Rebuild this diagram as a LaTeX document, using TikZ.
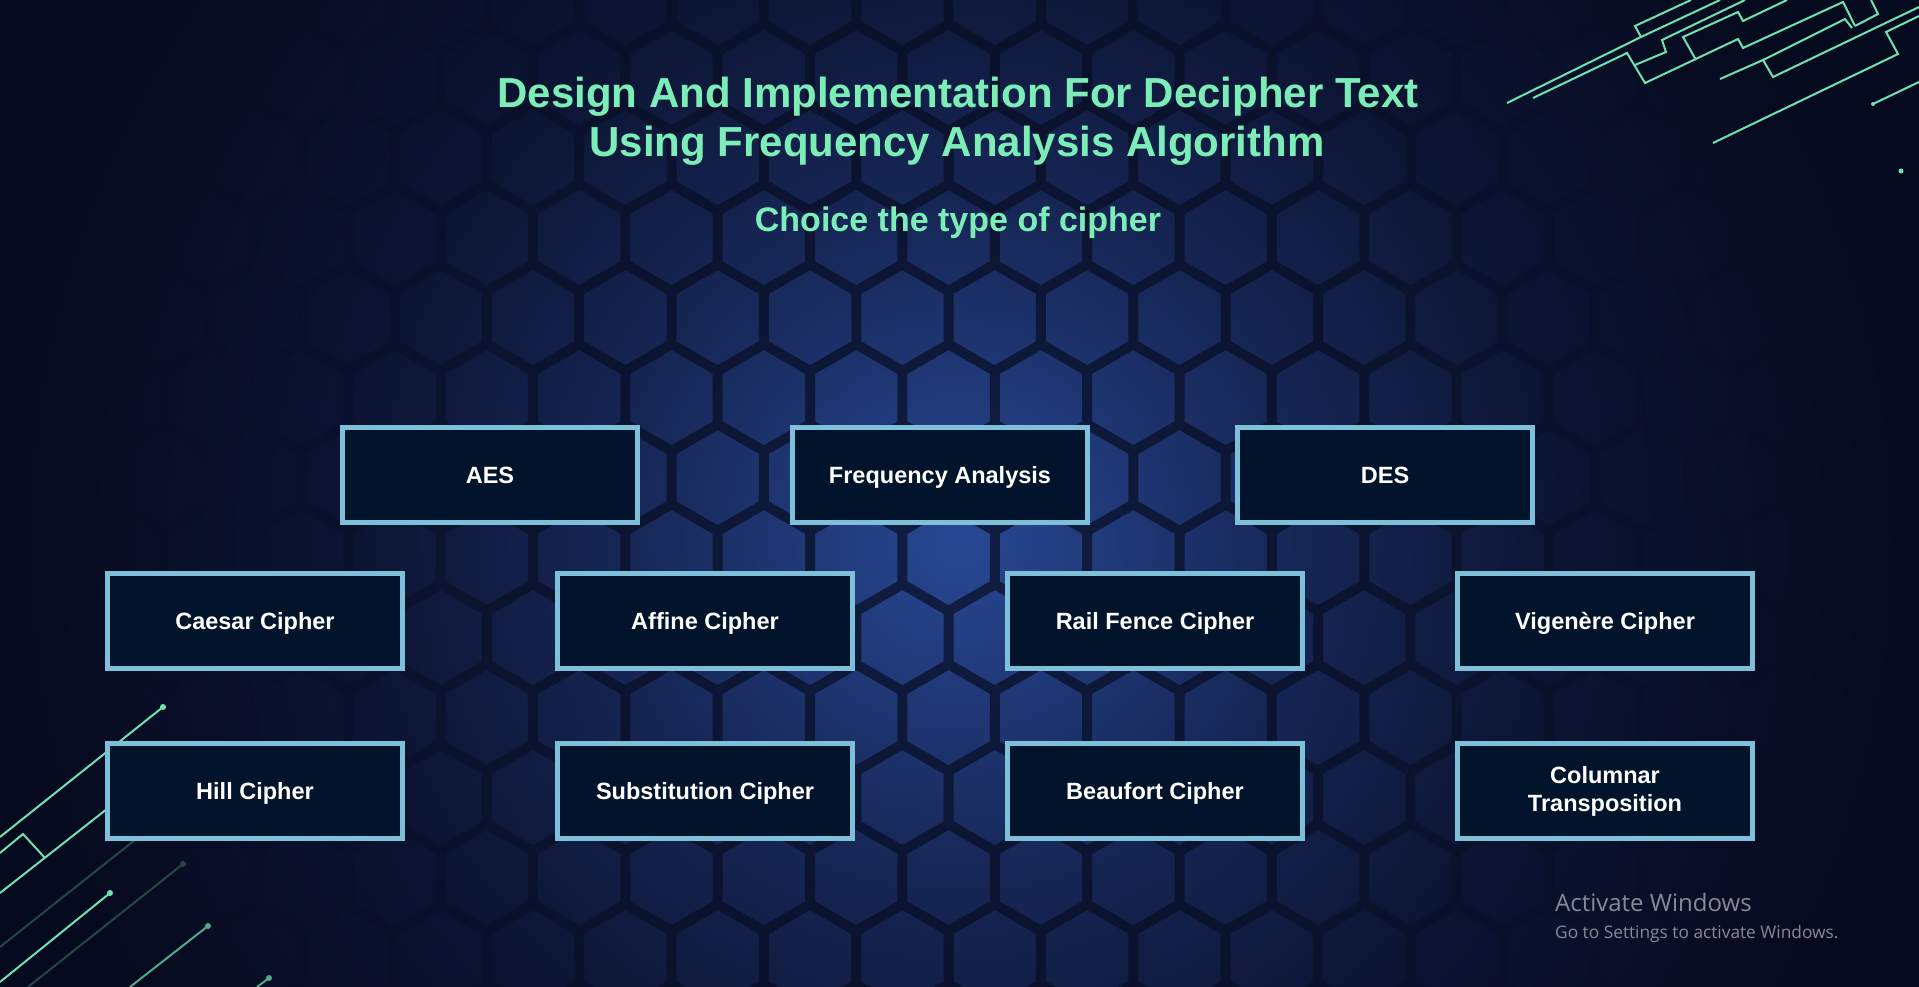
\documentclass[tikz,border=0pt]{standalone}
\usepackage{fontspec}
\usetikzlibrary{fadings}
\setmainfont{Liberation Sans}
\newfontfamily\winfont{Open Sans}
\definecolor{edgebg}{RGB}{6,10,30}
\definecolor{titlegreen}{RGB}{125,237,184}
\definecolor{boxborder}{RGB}{126,192,217}
\definecolor{boxfill}{RGB}{1,20,43}
\definecolor{circuit}{RGB}{110,227,176}
\definecolor{circuitdim}{RGB}{36,70,68}
\definecolor{circuitmid}{RGB}{80,170,138}
\definecolor{hexline}{RGB}{8,13,34}
\definecolor{wmgray}{RGB}{135,138,150}
\pgfdeclareradialshading{bgshade}{\pgfpoint{0bp}{0bp}}{rgb(0bp)=(0.157,0.282,0.58); rgb(9bp)=(0.086,0.149,0.333); rgb(16bp)=(0.047,0.078,0.196); rgb(25bp)=(0.024,0.039,0.118); rgb(50bp)=(0.024,0.039,0.118)}
\pgfdeclareradialshading{vignsh}{\pgfpoint{0bp}{0bp}}{rgb(0bp)=(1,1,1); rgb(12bp)=(1,1,1); rgb(25bp)=(0,0,0); rgb(50bp)=(0,0,0)}
\pgfdeclarefading{vign}{\pgfuseshading{vignsh}}
\tikzset{
  cbox/.style={draw=boxborder, line width=5pt, fill=boxfill, minimum width=295pt, minimum height=95pt,
    inner sep=0pt, text=white, font=\bfseries\fontsize{23.5}{28}\selectfont},
  onel/.style={text height=21.3pt, text depth=5pt},
  titletext/.style={text=titlegreen, font=\bfseries\fontsize{42}{49}\selectfont, inner sep=0pt, anchor=base},
  subtext/.style={text=titlegreen, font=\bfseries\fontsize{34}{40}\selectfont, inner sep=0pt, anchor=base},
  wire/.style={draw=circuit, line width=2pt, line join=miter},
  wiredim/.style={draw=circuitdim, line width=2pt},
  wiremid/.style={draw=circuitmid, line width=2pt},
  dotb/.style={fill=circuit},
  dotd/.style={fill=circuitdim},
  dotm/.style={fill=circuitmid},
  wm/.style={text=wmgray, inner sep=0pt, anchor=base west},
}
\begin{document}
\begin{tikzpicture}[x=1pt,y=-1pt]
\useasboundingbox (0,0) rectangle (1919,987);
\clip (0,0) rectangle (1919,987);
% background
\fill[edgebg] (0,0) rectangle (1919,987);
\shade[shading=bgshade] (960,540) circle (950pt);
% honeycomb
\draw[hexline, line width=10pt, opacity=0.7, line join=miter,
      path fading=vign, fit fading=false, fading transform={shift={(960,540)}, xscale=34, yscale=40}]
  \foreach \r in {0,...,13} {
    \foreach \k in {-1,...,21} {
      ({71.4+92.4*\k-46.2*mod(\r,2)},{-3+80*\r})
        +(30:53.35pt) -- +(90:53.35pt) -- +(150:53.35pt) -- +(210:53.35pt) -- +(270:53.35pt) -- +(330:53.35pt) -- cycle
    }
  };
% circuit lines, top right
\coordinate (t1a) at (1507,103);
\coordinate (t1b) at (1641,37);
\coordinate (t1c) at (1720,0);
\coordinate (t1d) at (1635,26);
\coordinate (t1e) at (1691,0);
\draw[wire] (t1a) -- (t1b) -- (t1c);
\draw[wire] (t1b) -- (t1d) -- (t1e);
\coordinate (t2a) at (1533,98);
\coordinate (t2b) at (1627,53);
\coordinate (t2c) at (1645,83);
\coordinate (t2d) at (1738,39);
\coordinate (t2e) at (1743,48);
\coordinate (t2f) at (1843,2);
\coordinate (t2g) at (1855,26);
\draw[wire] (t2a) -- (t2b) -- (t2c) -- (t2d) -- (t2e) -- (t2f) -- (t2g);
\coordinate (t3a) at (1635,65);
\coordinate (t3b) at (1666,52);
\coordinate (t3c) at (1662,40);
\coordinate (t3d) at (1745,0);
\draw[wire] (t3a) -- (t3b) -- (t3c) -- (t3d);
\coordinate (t4a) at (1696,60);
\coordinate (t4b) at (1683,37);
\coordinate (t4c) at (1738,12);
\coordinate (t4d) at (1743,21);
\coordinate (t4e) at (1787,0);
\draw[wire] (t4a) -- (t4b) -- (t4c) -- (t4d) -- (t4e);
\coordinate (t5a) at (1720,79);
\coordinate (t5b) at (1763,60);
\coordinate (t5c) at (1845,19);
\coordinate (t5d) at (1852,28);
\coordinate (t5e) at (1878,14);
\coordinate (t5f) at (1871,0);
\draw[wire] (t5a) -- (t5b) -- (t5c) -- (t5d);
\draw[wire] (t2g) -- (t5e) -- (t5f);
\coordinate (t6a) at (1773,77);
\coordinate (t6b) at (1919,7);
\draw[wire] (t5b) -- (t6a) -- (t6b);
\coordinate (t7a) at (1713,143);
\coordinate (t7b) at (1898,54);
\coordinate (t7c) at (1886,32);
\coordinate (t7d) at (1919,16);
\draw[wire] (t7a) -- (t7b) -- (t7c) -- (t7d);
\coordinate (t8a) at (1873,104);
\coordinate (t8b) at (1919,82);
\draw[wire] (t8a) -- (t8b);
\fill[dotb] (t8a) circle (2pt);
\coordinate (t9) at (1901,171);
\fill[dotb] (t9) circle (2.5pt);
% circuit lines, bottom left
\coordinate (b1a) at (0,837);
\coordinate (b1b) at (163,707);
\draw[wire] (b1a) -- (b1b);
\fill[dotb] (b1b) circle (3pt);
\coordinate (b2a) at (0,853);
\coordinate (b2b) at (23,834);
\coordinate (b2c) at (45,858);
\draw[wire] (b2a) -- (b2b) -- (b2c);
\coordinate (b3a) at (0,893);
\coordinate (b3b) at (140,783);
\draw[wire] (b3a) -- (b3b);
\coordinate (b4a) at (0,947);
\coordinate (b4b) at (140,836);
\draw[wiredim] (b4a) -- (b4b);
\coordinate (b5a) at (0,982);
\coordinate (b5b) at (110,893);
\draw[wire] (b5a) -- (b5b);
\fill[dotb] (b5b) circle (3pt);
\coordinate (b6a) at (28,987);
\coordinate (b6b) at (183,864);
\draw[wiredim] (b6a) -- (b6b);
\fill[dotd] (b6b) circle (3pt);
\coordinate (b7a) at (130,987);
\coordinate (b7b) at (208,926);
\draw[wiremid] (b7a) -- (b7b);
\fill[dotm] (b7b) circle (3pt);
\coordinate (b8a) at (257,987);
\coordinate (b8b) at (269,978);
\draw[wiremid] (b8a) -- (b8b);
\fill[dotm] (b8b) circle (3pt);
% titles
\node[titletext] (title1) at (958,108) {Design And Implementation For Decipher Text};
\node[titletext] (title2) at (957,157) {Using Frequency Analysis Algorithm};
\node[subtext] (sub) at (958,232) {Choice the type of cipher};
% boxes
\node[cbox,onel] (aes) at (490,475) {AES};
\node[cbox,onel] (freq) at (940,475) {Frequency Analysis};
\node[cbox,onel] (des) at (1385,475) {DES};
\node[cbox,onel] (caesar) at (255,621) {Caesar Cipher};
\node[cbox,onel] (affine) at (705,621) {Affine Cipher};
\node[cbox,onel] (rail) at (1155,621) {Rail Fence Cipher};
\node[cbox,onel] (vig) at (1605,621) {Vigenère Cipher};
\node[cbox,onel] (hill) at (255,791) {Hill Cipher};
\node[cbox,onel] (subst) at (705,791) {Substitution Cipher};
\node[cbox,onel] (beau) at (1155,791) {Beaufort Cipher};
\node[cbox,align=center] (col) at (1605,791) {Columnar\\Transposition};
% watermark
\node[wm, font=\winfont\fontsize{24}{28}\selectfont] (wm1) at (1555,911) {Activate Windows};
\node[wm, font=\winfont\fontsize{17.3}{20}\selectfont] (wm2) at (1555,938) {Go to Settings to activate Windows.};
\end{tikzpicture}
\end{document}
